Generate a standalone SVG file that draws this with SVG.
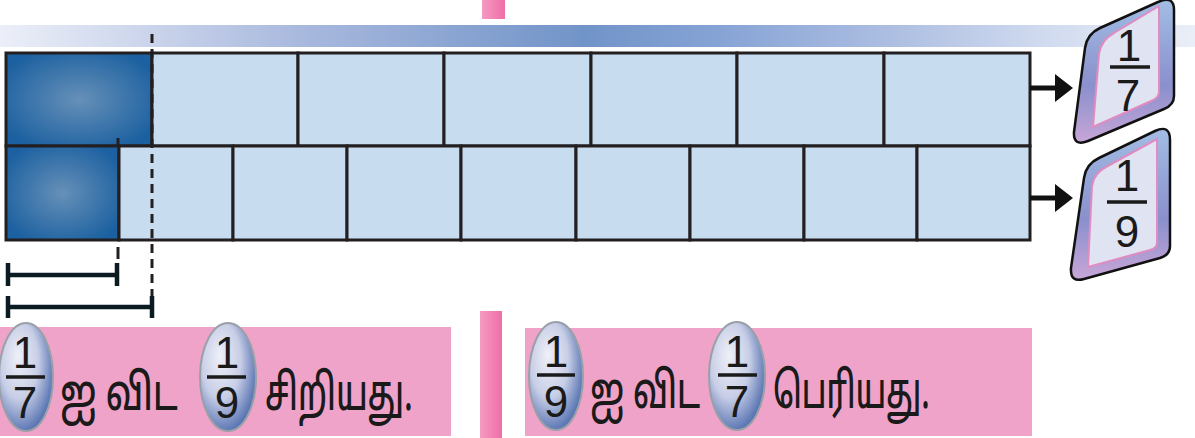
<svg xmlns="http://www.w3.org/2000/svg" width="1195" height="438" viewBox="0 0 1195 438">
<defs>
<style>
.cell{fill:#c8dcf0;stroke:#231f20;stroke-width:3}
.dash{stroke:#231f20;stroke-width:3;stroke-dasharray:9 6;fill:none}
.brk{stroke:#0c1a22;stroke-width:4.5;fill:none}
.pinkbox{fill:#f0a3c8}
.oval{fill:url(#ovalGrad);stroke:#9aa0a8;stroke-width:2}
.num{font-family:"Liberation Sans","DejaVu Sans",sans-serif;font-size:44px;fill:#1a1a1a;text-anchor:middle}
.bar{stroke:#1a1a1a;stroke-width:3.5}
.ta{font-family:"Noto Sans Tamil","Lohit Tamil","Noto Serif Tamil","Noto Sans",sans-serif;font-size:50px;font-weight:500;fill:#1a1a1a}
.tagOuter{fill:url(#tagGrad);stroke:#111;stroke-width:2.5}
.tagInner{fill:#dfe3f2;stroke:#e08cc0;stroke-width:2}
.arrow{stroke:#111;stroke-width:5;fill:none}
</style>
<linearGradient id="bandGrad" x1="0" y1="0" x2="1195" y2="0" gradientUnits="userSpaceOnUse">
<stop offset="0" stop-color="#eceff8"/>
<stop offset="0.25" stop-color="#a9b9de"/>
<stop offset="0.49" stop-color="#7194c8"/>
<stop offset="0.6" stop-color="#86a3d5"/>
<stop offset="0.75" stop-color="#aebfe2"/>
<stop offset="0.88" stop-color="#d2dcf0"/>
<stop offset="1" stop-color="#eaeef7"/>
</linearGradient>
<radialGradient id="blueGrad" cx="0.5" cy="0.5" r="0.6">
<stop offset="0" stop-color="#6690b8"/>
<stop offset="1" stop-color="#1b60a0"/>
</radialGradient>
<linearGradient id="stripGrad" x1="0" y1="0" x2="1" y2="0">
<stop offset="0" stop-color="#f59ac2"/>
<stop offset="1" stop-color="#ee6ea6"/>
</linearGradient>
<radialGradient id="ovalGrad" cx="0.4" cy="0.4" r="0.7" fx="0.35" fy="0.3">
<stop offset="0" stop-color="#eef0f8"/>
<stop offset="0.5" stop-color="#c8cee6"/>
<stop offset="1" stop-color="#3d5ea6"/>
</radialGradient>
<linearGradient id="tagGrad" x1="0" y1="0" x2="0" y2="1">
<stop offset="0" stop-color="#a2bde4"/>
<stop offset="0.6" stop-color="#8a90cc"/>
<stop offset="1" stop-color="#c8a6d8"/>
</linearGradient>
</defs>
<rect width="1195" height="438" fill="#ffffff"/>
<!-- top band -->
<rect id="band" x="0" y="25" width="1195" height="22" fill="url(#bandGrad)"/>
<rect id="pinkTop" x="482" y="0" width="23" height="19" fill="url(#stripGrad)"/>
<!-- bars -->
<g id="row7">
<rect x="6" y="53" width="146" height="93" fill="url(#blueGrad)" stroke="#231f20" stroke-width="3"/>
<rect class="cell" x="152" y="53" width="146" height="93"/>
<rect class="cell" x="298" y="53" width="146" height="93"/>
<rect class="cell" x="444" y="53" width="147" height="93"/>
<rect class="cell" x="591" y="53" width="146" height="93"/>
<rect class="cell" x="737" y="53" width="147" height="93"/>
<rect class="cell" x="884" y="53" width="146" height="93"/>
</g>
<g id="row9">
<rect x="6" y="146" width="113" height="94" fill="url(#blueGrad)" stroke="#231f20" stroke-width="3"/>
<rect class="cell" x="119" y="146" width="114" height="94"/>
<rect class="cell" x="233" y="146" width="114" height="94"/>
<rect class="cell" x="347" y="146" width="114" height="94"/>
<rect class="cell" x="461" y="146" width="115" height="94"/>
<rect class="cell" x="576" y="146" width="114" height="94"/>
<rect class="cell" x="690" y="146" width="114" height="94"/>
<rect class="cell" x="804" y="146" width="113" height="94"/>
<rect class="cell" x="917" y="146" width="113" height="94"/>
</g>
<!-- connectors -->
<g id="connectors">
<line class="dash" x1="152" y1="34" x2="152" y2="318"/>
<line x1="118" y1="138" x2="118" y2="146" stroke="#231f20" stroke-width="3"/>
<line x1="118" y1="247" x2="118" y2="259" stroke="#231f20" stroke-width="3"/>
<path class="brk" d="M8,263 V286 M8,275 H117 M117,263 V286"/>
<path class="brk" d="M8,296 V318 M8,307 H152 M152,296 V318"/>
<line class="arrow" x1="1030" y1="88" x2="1058" y2="88"/>
<polygon points="1055,74 1073,88 1055,102" fill="#111"/>
<line class="arrow" x1="1030" y1="198" x2="1058" y2="198"/>
<polygon points="1055,184 1073,198 1055,212" fill="#111"/>
</g>
<!-- tags -->
<g id="tag7">
<path class="tagOuter" d="M1074,132 L1085,48 Q1087,34 1100,28 L1158,2 Q1174,-5 1174,10 L1174,96 Q1174,105 1164,109 L1088,141 Q1073,147 1074,132 Z"/>
<path class="tagInner" d="M1093,127 L1099,54 Q1101,40 1114,33 L1159,6 L1159,92 Q1159,98 1151,101 Z"/>
<text class="num" x="1129" y="61">1</text>
<line class="bar" x1="1110" y1="67" x2="1150" y2="67"/>
<text class="num" x="1128" y="111">7</text>
</g>
<g id="tag9">
<path class="tagOuter" d="M1071,268 L1084,178 Q1086,164 1099,158 L1155,131 Q1170,124 1170,140 L1170,246 Q1170,255 1160,258 L1084,279 Q1070,283 1071,268 Z"/>
<path class="tagInner" d="M1088,267 L1092,186 Q1094,173 1106,167 L1157,139 L1157,243 Q1157,248 1150,250 Z"/>
<text class="num" x="1127" y="191">1</text>
<line class="bar" x1="1107" y1="202" x2="1147" y2="202"/>
<text class="num" x="1127" y="247">9</text>
</g>
<!-- statement boxes -->
<rect id="strip" x="480" y="311" width="22" height="127" fill="url(#stripGrad)"/>
<g id="box1">
<rect class="pinkbox" x="0" y="327" width="451" height="109"/>
<ellipse class="oval" cx="26" cy="377" rx="27" ry="54"/>
<text class="num" x="25" y="368">1</text>
<line class="bar" x1="6" y1="377" x2="45" y2="377"/>
<text class="num" x="25" y="418">7</text>
<text class="ta" transform="translate(60,410) scale(0.75,1)" x="0" y="0" textLength="157" lengthAdjust="spacingAndGlyphs">ஐ விட</text>
<ellipse class="oval" cx="228" cy="377" rx="28" ry="54"/>
<text class="num" x="227" y="368">1</text>
<line class="bar" x1="207" y1="377" x2="246" y2="377"/>
<text class="num" x="227" y="418">9</text>
<text class="ta" transform="translate(265,410) scale(0.75,1)" x="0" y="0" textLength="197" lengthAdjust="spacingAndGlyphs">சிறியது.</text>
</g>
<g id="box2">
<rect class="pinkbox" x="525" y="328" width="507" height="108"/>
<ellipse class="oval" cx="556" cy="376" rx="27" ry="54"/>
<text class="num" x="556" y="367">1</text>
<line class="bar" x1="537" y1="375" x2="575" y2="375"/>
<text class="num" x="556" y="417">9</text>
<text class="ta" transform="translate(590,408) scale(0.75,1)" x="0" y="0" textLength="147" lengthAdjust="spacingAndGlyphs">ஐ விட</text>
<ellipse class="oval" cx="737" cy="376" rx="28" ry="54"/>
<text class="num" x="737" y="367">1</text>
<line class="bar" x1="718" y1="375" x2="757" y2="375"/>
<text class="num" x="737" y="417">7</text>
<text class="ta" transform="translate(773,408) scale(0.75,1)" x="0" y="0" textLength="209" lengthAdjust="spacingAndGlyphs">பெரியது.</text>
</g>
</svg>
